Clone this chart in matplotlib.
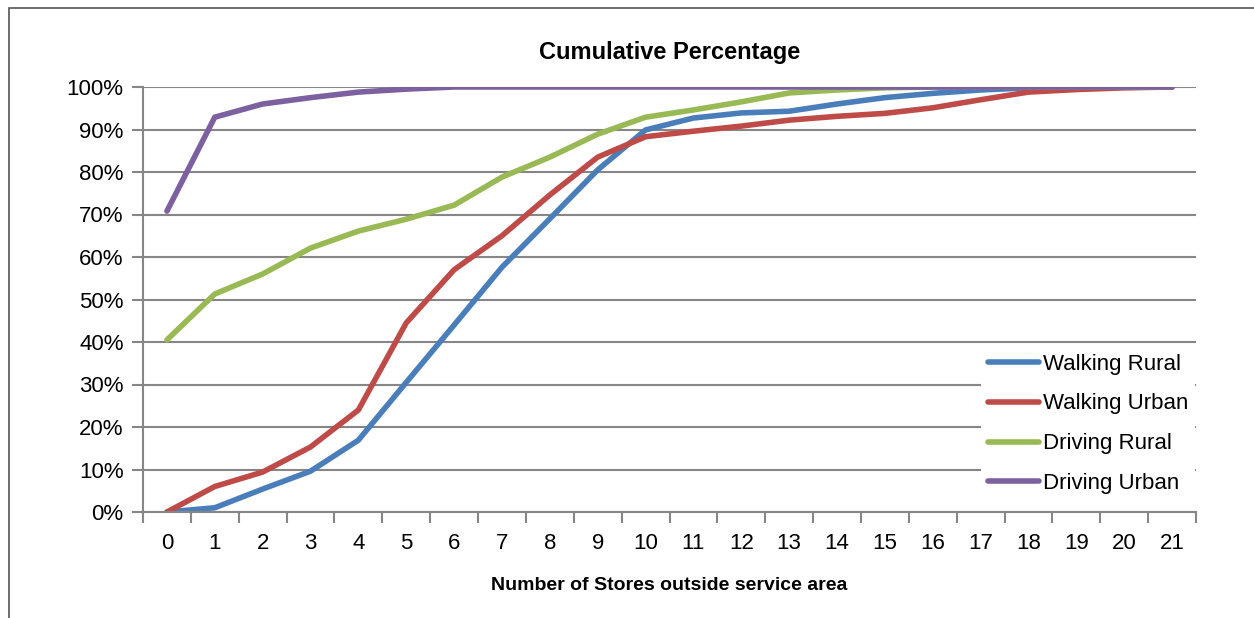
import numpy as np
import matplotlib.pyplot as plt
from matplotlib.patches import Rectangle
from matplotlib.ticker import FixedLocator

# stores outside service area (categories)
stores = list(range(0, 22))

# cumulative percentages
walking_rural = [0, 1, 5.4, 9.6, 16.9, 30.5, 44, 57.6, 69, 80.5, 89.9, 92.7, 93.9, 94.3,
                 96, 97.5, 98.5, 99.3, 99.8, 100, 100, 100]
walking_urban = [0, 6, 9.4, 15.3, 24, 44.5, 57, 65, 74.6, 83.5, 88.3, 89.6, 90.8, 92.2,
                 93.1, 93.8, 95.1, 97, 98.8, 99.4, 99.8, 100]
driving_rural = [40.5, 51.3, 56, 62.1, 66.1, 68.9, 72.2, 78.8, 83.5, 88.9, 92.9, 94.6,
                 96.5, 98.6, 99.3, 99.8, 100, 100, 100, 100, 100, 100]
driving_urban = [70.8, 92.9, 96, 97.5, 98.8, 99.5, 100, 100, 100, 100, 100, 100, 100,
                 100, 100, 100, 100, 100, 100, 100, 100, 100]

plt.rcParams['font.family'] = ['Liberation Sans', 'DejaVu Sans']

fig = plt.figure(figsize=(12.54, 6.18), dpi=100)
W, H = 1254, 618
ax = fig.add_axes([143 / W, 1 - 512 / H, (1196 - 143) / W, (512 - 87) / H])

# outer chart border
fig.patches.append(Rectangle((9 / W, -0.1), 1.2, 1 - 8 / H + 0.1, transform=fig.transFigure,
                             fill=False, edgecolor='#555555', lw=1.2))

ax.plot(stores, walking_rural, color='#4a7ebb', lw=4, label='Walking Rural', solid_capstyle='round')
ax.plot(stores, walking_urban, color='#be4b48', lw=4, label='Walking Urban', solid_capstyle='round')
ax.plot(stores, driving_rural, color='#98b954', lw=4, label='Driving Rural', solid_capstyle='round')
ax.plot(stores, driving_urban, color='#7d60a0', lw=4, label='Driving Urban', solid_capstyle='round')

ax.set_xlim(-0.5, 21.5)
ax.set_ylim(0, 100)
ax.set_yticks(np.arange(0, 101, 10))
ax.set_yticklabels(['%d%%' % v for v in range(0, 101, 10)], fontsize=16)
ax.set_xticks(stores)
ax.set_xticklabels([str(s) for s in stores], fontsize=16)
ax.xaxis.set_minor_locator(FixedLocator(np.arange(-0.5, 22, 1)))
ax.tick_params(axis='x', which='major', length=0, pad=15)
ax.tick_params(axis='x', which='minor', length=8, color='#868686', width=1.5)
ax.tick_params(axis='y', length=8, color='#868686', width=1.5, pad=6)
ax.grid(axis='y', color='#868686', lw=1.5)
ax.set_axisbelow(True)
for s in ['top', 'right']:
    ax.spines[s].set_visible(False)
for s in ['left', 'bottom']:
    ax.spines[s].set_color('#868686')
    ax.spines[s].set_linewidth(1.5)

ax.set_title('Cumulative Percentage', fontsize=17, fontweight='bold', pad=20)
ax.set_xlabel('Number of Stores outside service area', fontsize=14, fontweight='bold', labelpad=17)

leg = ax.legend(loc='lower right', bbox_to_anchor=(1.01, 0.0), fontsize=16, frameon=True,
                fancybox=False, edgecolor='none', framealpha=1, handlelength=2.3,
                handletextpad=0.2, labelspacing=0.85, borderpad=0.3)

fig.savefig('out.png', dpi=100)
